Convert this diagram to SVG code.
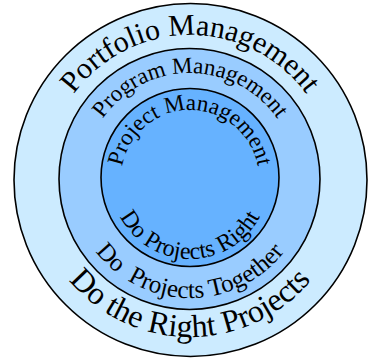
<svg xmlns="http://www.w3.org/2000/svg" xmlns:xlink="http://www.w3.org/1999/xlink" width="369" height="360" viewBox="0 0 369 360">
<style>
.ring{stroke:#000;stroke-width:1.6}
.lbl{font-family:"Liberation Serif","Times New Roman",serif;fill:#000}
</style>
<defs>
<path id="pTop1" d="M190,323 A144,144 0 0 1 190,35 A144,144 0 0 1 190,323"/>
<path id="pTop2" d="M190,285 A106,106 0 0 1 190,73 A106,106 0 0 1 190,285"/>
<path id="pTop3" d="M190,248 A69,69 0 0 1 190,110 A69,69 0 0 1 190,248"/>
<path id="pBot3" d="M190,101 A79,79 0 0 0 190,259 A79,79 0 0 0 190,101"/>
<path id="pBot2" d="M190,60 A119,119 0 0 0 190,298 A119,119 0 0 0 190,60"/>
<path id="pBot1" d="M190,21 A158,158 0 0 0 190,337 A158,158 0 0 0 190,21"/>
</defs>
<g id="portfolio">
<circle class="ring" cx="190.5" cy="180" r="176.5" fill="#CCEBFF"/>
<text class="lbl" font-size="30" text-anchor="middle"><textPath xlink:href="#pTop1" href="#pTop1" startOffset="50%">Portfolio Management</textPath></text>
<text class="lbl" font-size="32" text-anchor="middle"><textPath xlink:href="#pBot1" href="#pBot1" startOffset="50%">Do the Right Projects</textPath></text>
</g>
<g id="program">
<circle class="ring" cx="189.5" cy="179" r="130.5" fill="#99CCFF"/>
<text class="lbl" font-size="23" text-anchor="middle"><textPath xlink:href="#pTop2" href="#pTop2" startOffset="50%">Program Management</textPath></text>
<text class="lbl" font-size="25" text-anchor="middle" xml:space="preserve"><textPath xlink:href="#pBot2" href="#pBot2" startOffset="50%">Do  Projects Together</textPath></text>
</g>
<g id="project">
<circle class="ring" cx="190" cy="177.5" r="89" fill="#66B2FF"/>
<text class="lbl" font-size="23" text-anchor="middle"><textPath xlink:href="#pTop3" href="#pTop3" startOffset="50%">Project Management</textPath></text>
<text class="lbl" font-size="24" text-anchor="middle"><textPath xlink:href="#pBot3" href="#pBot3" startOffset="50%">Do Projects Right</textPath></text>
</g>
</svg>
